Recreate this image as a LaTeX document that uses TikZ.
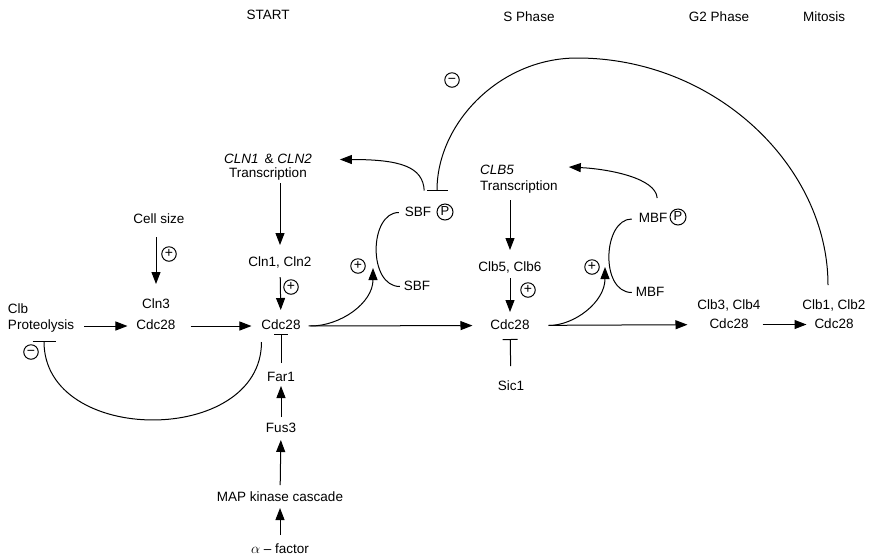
\documentclass[tikz,border=0pt]{standalone}
\usepackage{fontspec}
\setmainfont{Liberation Sans}
\usetikzlibrary{positioning,arrows.meta}
\tikzset{
  lbl/.style={inner sep=0pt, outer sep=0pt, text height=9.5pt, text depth=2.5pt},
  sign/.style={circle, draw, line width=1pt, inner sep=0pt, minimum size=14pt, font=\fontsize{14}{14}\selectfont},
  phos/.style={circle, draw, line width=1pt, inner sep=0pt, minimum size=16pt, font=\fontsize{13}{13}\selectfont},
  act/.style={-{Triangle[length=12pt,width=9pt]}},
  inh/.style={-{Bar[width=#1]}},
  inh/.default=16pt
}

\begin{document}
\begin{tikzpicture}[x=1pt, y=-1pt, font=\fontsize{13.5}{15}\selectfont, line width=1pt, every node/.style={lbl}]
\useasboundingbox (0,0) rectangle (869,558);
\node (start) at (268,15.5) {START};
\node (sphase) at (529,17.5) {S Phase};
\node (gtwo) at (719,17.5) {G2 Phase};
\node (mitosis) at (824,17.5) {Mitosis};

\node[anchor=west] (proteo) at (8,326) {Proteolysis};
\node[above=4pt of proteo.north west, anchor=south west] (clb) {Clb};
\node (cdcB) at (156,326) {Cdc28};
\node[above=9.5pt of cdcB] (cln3) {Cln3};
\node (cellsize) at (159,220) {Cell size};
\node (cdcA) at (281,326) {Cdc28};
\node (cln12) at (280,263) {Cln1, Cln2};
\node (clntr) at (268,173.5) {Transcription};
\node[above=2pt of clntr] (cln) {\textit{CLN1}\,\ \& \textit{CLN2}};
\node (far1) at (281,378) {Far1};
\node (fus3) at (281,429) {Fus3};
\node (map) at (280,498) {MAP kinase cascade};
\node (alpha) at (280,550) {$\alpha$ -- factor};

\node (sbfp) at (418,212.5) {SBF};
\node[phos] (sbfpp) at (445,212) {P};
\node (sbf) at (417,286.5) {SBF};
\node[anchor=west] (clb5tr) at (480,186.5) {Transcription};
\node[above=3.5pt of clb5tr.north west, anchor=south west] (clb5) {\textit{CLB5}};
\node (clb56) at (510,267.5) {Clb5, Clb6};
\node (cdcC) at (510,325.5) {Cdc28};
\node (sic1) at (511,386.5) {Sic1};
\node (mbfp) at (653,219) {MBF};
\node[phos] (mbfpp) at (678,217) {P};
\node (mbf) at (650,292.5) {MBF};

\node (cdcD) at (729,324.5) {Cdc28};
\node[above=6.5pt of cdcD] (clb34) {Clb3, Clb4};
\node (cdcE) at (834,324.5) {Cdc28};
\node[above=6.5pt of cdcE] (clb12) {Clb1, Clb2};

\coordinate (sbfin) at (373,268);
\coordinate (mbfin) at (605,267);

\draw[act, shorten <=11pt, shorten >=14.5pt] (cellsize.south -| cln3) -- (cln3.north);
\draw[act, shorten <=3.5pt, shorten >=12pt] (clntr.south -| cln12) -- (cln12.north);
\draw[act, shorten <=8pt, shorten >=10pt] (cln12) -- (cdcA);
\draw[act, shorten <=10pt, shorten >=9pt] (proteo) -- (cdcB);
\draw[act, shorten <=15pt, shorten >=10pt] (cdcB) -- (cdcA);
\draw[inh=14pt, shorten <=9pt, shorten >=2pt] (far1) -- (cdcA);
\draw[act, shorten <=6pt, shorten >=2pt] (fus3) -- (far1);
\draw[act, shorten <=7pt, shorten >=5pt] (map) -- (fus3);
\draw[act, shorten <=9pt, shorten >=4pt] (alpha) -- (map);
\draw[inh=23pt, shorten <=10pt, shorten >=9pt] (cdcA.south west) .. controls +(0,114) and +(0,114) .. ([xshift=3pt]proteo.south);

\draw[act, shorten <=8pt, shorten >=18pt] (cdcA) -- (cdcC);
\draw[act, shorten <=10pt] (cdcA.east) .. controls +(40,0) and +(0,35) .. (sbfin);
\draw[shorten <=6pt, shorten >=4pt] (sbfp.west) .. controls +(-36,0) and +(-36,0) .. (sbf.west);
\draw[act, shorten <=16pt] ([xshift=7pt]sbfp.north) .. controls +(-2,-40) and +(60,0) .. ([xshift=28pt]cln.east);
\draw[inh=21pt, shorten <=15pt, shorten >=13pt] ([xshift=-6pt]clb12.north) .. controls +(0,-133) and +(139,0) .. (577,58) .. controls +(-77,0) and +(0,-81) .. ([xshift=-8pt]sbfpp.north);

\draw[act, shorten <=7.5pt, shorten >=11.5pt] (clb5tr.south -| clb56) -- (clb56.north);
\draw[act, shorten <=4.5pt, shorten >=7.5pt] (clb56) -- (cdcC);
\draw[inh=15pt, shorten <=14.5pt, shorten >=7.5pt] (sic1) -- (cdcC);
\draw[act, shorten <=19pt, shorten >=22pt] (cdcC) -- (cdcD);
\draw[act, shorten <=19pt] (cdcC.east) .. controls +(45,0) and +(0,35) .. (mbfin);
\draw[shorten <=7pt, shorten >=4pt] (mbfp.west) .. controls +(-36,0) and +(-36,0) .. (mbf.west);
\draw[act, shorten <=15pt] ([xshift=5pt]mbfp.north) .. controls +(-2,-35) and +(40,2) .. ([xshift=55pt,yshift=4pt]clb5.east);
\draw[act, shorten <=14pt, shorten >=8pt] (cdcD) -- (cdcE);

\node[sign] (pcell) at (169,254) {+};
\node[sign] (pcln) at (291,287) {+};
\node[sign] (psbf) at (358,266) {+};
\node[sign] (pclb) at (528,290) {+};
\node[sign] (pmbf) at (592,267) {+};
\node[sign] (mprot) at (31,352) {−};
\node[sign] (mtop) at (452,80) {−};
\end{tikzpicture}
\end{document}
